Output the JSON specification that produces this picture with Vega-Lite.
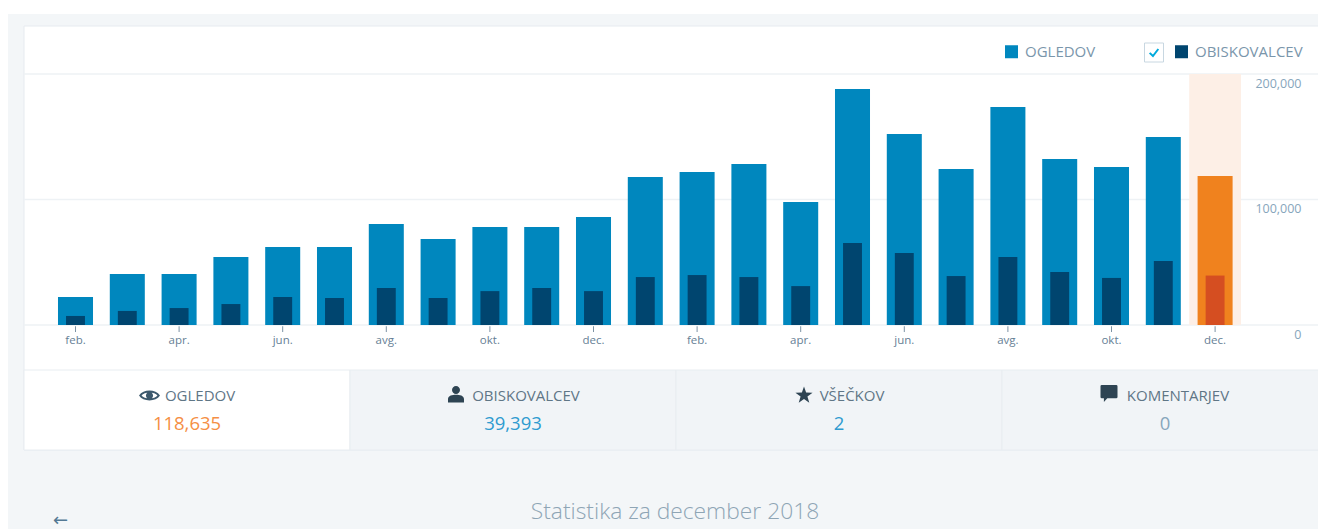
{
"$schema":"https://vega.github.io/schema/vega-lite/v6.json",
"width":1318,"height":529,"padding":0,"autosize":{"type":"none"},"background":"#ffffff",
"config":{"view":{"stroke":null},"font":"Open Sans"},
"datasets":{
"meseci":[
{"mesec":"feb. 2017","serija":"OGLEDOV","vrednost":22300},{"mesec":"mar. 2017","serija":"OGLEDOV","vrednost":40600},{"mesec":"apr. 2017","serija":"OGLEDOV","vrednost":40600},{"mesec":"maj 2017","serija":"OGLEDOV","vrednost":54200},{"mesec":"jun. 2017","serija":"OGLEDOV","vrednost":62200},{"mesec":"jul. 2017","serija":"OGLEDOV","vrednost":62200},{"mesec":"avg. 2017","serija":"OGLEDOV","vrednost":80500},{"mesec":"sep. 2017","serija":"OGLEDOV","vrednost":68500},{"mesec":"okt. 2017","serija":"OGLEDOV","vrednost":78100},{"mesec":"nov. 2017","serija":"OGLEDOV","vrednost":78100},{"mesec":"dec. 2017","serija":"OGLEDOV","vrednost":86000},{"mesec":"jan. 2018","serija":"OGLEDOV","vrednost":118000},{"mesec":"feb. 2018","serija":"OGLEDOV","vrednost":122000},{"mesec":"mar. 2018","serija":"OGLEDOV","vrednost":128300},{"mesec":"apr. 2018","serija":"OGLEDOV","vrednost":98000},{"mesec":"maj 2018","serija":"OGLEDOV","vrednost":188000},{"mesec":"jun. 2018","serija":"OGLEDOV","vrednost":152200},{"mesec":"jul. 2018","serija":"OGLEDOV","vrednost":124300},{"mesec":"avg. 2018","serija":"OGLEDOV","vrednost":173700},{"mesec":"sep. 2018","serija":"OGLEDOV","vrednost":132300},{"mesec":"okt. 2018","serija":"OGLEDOV","vrednost":125900},{"mesec":"nov. 2018","serija":"OGLEDOV","vrednost":149800},{"mesec":"dec. 2018","serija":"OGLEDOV","vrednost":118635},
{"mesec":"feb. 2017","serija":"OBISKOVALCEV","vrednost":7200},{"mesec":"mar. 2017","serija":"OBISKOVALCEV","vrednost":11200},{"mesec":"apr. 2017","serija":"OBISKOVALCEV","vrednost":13500},{"mesec":"maj 2017","serija":"OBISKOVALCEV","vrednost":16700},{"mesec":"jun. 2017","serija":"OBISKOVALCEV","vrednost":22300},{"mesec":"jul. 2017","serija":"OBISKOVALCEV","vrednost":21500},{"mesec":"avg. 2017","serija":"OBISKOVALCEV","vrednost":29500},{"mesec":"sep. 2017","serija":"OBISKOVALCEV","vrednost":21500},{"mesec":"okt. 2017","serija":"OBISKOVALCEV","vrednost":27000},{"mesec":"nov. 2017","serija":"OBISKOVALCEV","vrednost":29500},{"mesec":"dec. 2017","serija":"OBISKOVALCEV","vrednost":27000},{"mesec":"jan. 2018","serija":"OBISKOVALCEV","vrednost":38200},{"mesec":"feb. 2018","serija":"OBISKOVALCEV","vrednost":39800},{"mesec":"mar. 2018","serija":"OBISKOVALCEV","vrednost":38200},{"mesec":"apr. 2018","serija":"OBISKOVALCEV","vrednost":31000},{"mesec":"maj 2018","serija":"OBISKOVALCEV","vrednost":65300},{"mesec":"jun. 2018","serija":"OBISKOVALCEV","vrednost":57400},{"mesec":"jul. 2018","serija":"OBISKOVALCEV","vrednost":39000},{"mesec":"avg. 2018","serija":"OBISKOVALCEV","vrednost":54200},{"mesec":"sep. 2018","serija":"OBISKOVALCEV","vrednost":42200},{"mesec":"okt. 2018","serija":"OBISKOVALCEV","vrednost":37500},{"mesec":"nov. 2018","serija":"OBISKOVALCEV","vrednost":51000},{"mesec":"dec. 2018","serija":"OBISKOVALCEV","vrednost":39393}
],
"plosce":[{"plosca":"OGLEDOV","stevilo":"118,635"},{"plosca":"OBISKOVALCEV","stevilo":"39,393"},{"plosca":"VŠEČKOV","stevilo":"2"},{"plosca":"KOMENTARJEV","stevilo":"0"}],
"mreza":[{"raven":0},{"raven":100000},{"raven":200000}]
},
"resolve":{"scale":{"x":"independent","y":"independent","fill":"independent"}},
"layer":[
{"data":{"values":[{"ploskev":"stran"}]},"mark":{"type":"rect","fill":"#f3f6f8"},
 "encoding":{"x":{"field":"ploskev","type":"nominal","axis":null,"scale":{"type":"band","domain":["stran"],"range":[8,1330],"paddingInner":0,"paddingOuter":0}},
 "y":{"field":"ploskev","type":"nominal","axis":null,"scale":{"type":"band","domain":["stran"],"range":[14,540],"paddingInner":0,"paddingOuter":0}}}},
{"data":{"values":[{"ploskev":"okvir"}]},"mark":{"type":"rect","fill":"#ffffff","stroke":"#e6ebf0","strokeWidth":1},
 "encoding":{"x":{"field":"ploskev","type":"nominal","axis":null,"scale":{"type":"band","domain":["okvir"],"range":[24,1330],"paddingInner":0,"paddingOuter":0}},
 "y":{"field":"ploskev","type":"nominal","axis":null,"scale":{"type":"band","domain":["okvir"],"range":[26,450],"paddingInner":0,"paddingOuter":0}}}},
{"data":{"name":"mreza"},"mark":{"type":"rule","color":"#eef2f5","strokeWidth":1.6},
 "encoding":{"x":{"datum":0,"type":"quantitative","axis":null,"scale":{"domain":[0,1],"range":[24,1318]}},"x2":{"datum":1},
 "y":{"field":"raven","type":"quantitative","scale":{"domain":[0,200000],"range":[325,74],"nice":false,"zero":true},
 "axis":{"orient":"right","offset":-17,"title":null,"values":[0,100000,200000],"format":",d","domain":false,"ticks":false,"grid":false,"labelAlign":"right","labelPadding":0,"labelOffset":9,"labelFont":"Open Sans","labelFontSize":12.5,"labelColor":"#87a6bc","zindex":1}}}},
{"data":{"name":"meseci"},
 "encoding":{"x":{"field":"mesec","type":"nominal","sort":null,"scale":{"type":"band","domain":["feb. 2017","mar. 2017","apr. 2017","maj 2017","jun. 2017","jul. 2017","avg. 2017","sep. 2017","okt. 2017","nov. 2017","dec. 2017","jan. 2018","feb. 2018","mar. 2018","apr. 2018","maj 2018","jun. 2018","jul. 2018","avg. 2018","sep. 2018","okt. 2018","nov. 2018","dec. 2018"],"range":[49.6,1241],"paddingInner":0,"paddingOuter":0},
  "axis":{"orient":"bottom","offset":-204,"title":null,"labelAngle":0,"values":["feb. 2017","apr. 2017","jun. 2017","avg. 2017","okt. 2017","dec. 2017","feb. 2018","apr. 2018","jun. 2018","avg. 2018","okt. 2018","dec. 2018"],"labelExpr":"split(datum.label,' ')[0]","domain":false,"ticks":false,"labelPadding":9,"labelFont":"Open Sans","labelFontSize":11.5,"labelColor":"#668095","zindex":1}},
 "y":{"field":"vrednost","type":"quantitative","stack":null,"axis":null,"scale":{"domain":[0,200000],"range":[325,74],"nice":false,"zero":true}}},
 "layer":[
  {"transform":[{"filter":"datum.serija==='OGLEDOV' && datum.mesec==='dec. 2018'"}],"mark":{"type":"bar","color":"#fdefe6","width":{"band":1}},
   "encoding":{"y":{"datum":200000,"type":"quantitative","stack":null,"axis":null},"y2":{"datum":0}}},
  {"transform":[{"filter":"datum.serija==='OGLEDOV'"}],"mark":{"type":"bar","width":{"band":0.676}},
   "encoding":{"color":{"condition":{"test":"datum.mesec==='dec. 2018'","value":"#f0821e"},"field":"serija","type":"nominal",
    "scale":{"domain":["OGLEDOV","OBISKOVALCEV"],"range":["#0087be","#00456f"]},
    "legend":{"orient":"none","legendX":1004,"legendY":44,"direction":"horizontal","columns":2,"columnPadding":78,"title":null,"symbolType":"square","symbolSize":169,"symbolStrokeWidth":0,"labelFont":"Open Sans","labelFontSize":15,"labelColor":"#7a96ab","labelOffset":6}}}},
  {"transform":[{"filter":"datum.serija==='OBISKOVALCEV'"}],"mark":{"type":"bar","width":{"band":0.365}},
   "encoding":{"color":{"condition":{"test":"datum.mesec==='dec. 2018'","value":"#d54e21"},"field":"serija","type":"nominal","scale":{"domain":["OGLEDOV","OBISKOVALCEV"],"range":["#0087be","#00456f"]}}}},
  {"transform":[{"filter":"datum.serija==='OGLEDOV' && indexof(['feb. 2017','apr. 2017','jun. 2017','avg. 2017','okt. 2017','dec. 2017','feb. 2018','apr. 2018','jun. 2018','avg. 2018','okt. 2018','dec. 2018'],datum.mesec)>=0"}],"mark":{"type":"rule","color":"#7d93a5","strokeWidth":1},
   "encoding":{"y":{"datum":-1000,"type":"quantitative","stack":null,"axis":null},"y2":{"datum":-5600}}}
 ]},
{"data":{"values":[{"polje":"izbira"}]},
 "encoding":{"x":{"field":"polje","type":"nominal","axis":null,"scale":{"type":"band","domain":["izbira"],"range":[1144,1164],"paddingInner":0,"paddingOuter":0}},
  "y":{"field":"polje","type":"nominal","axis":null,"scale":{"type":"band","domain":["izbira"],"range":[43,62],"paddingInner":0,"paddingOuter":0}}},
 "layer":[
  {"mark":{"type":"point","shape":"square","size":361,"filled":true,"fill":"#ffffff","stroke":"#c8d7e1","strokeWidth":1,"opacity":1}},
  {"mark":{"type":"point","shape":"M-0.62,0.05 L-0.15,0.5 L0.62,-0.5","size":196,"filled":false,"stroke":"#00aadc","strokeWidth":2,"opacity":1}}
 ]},
{"data":{"name":"plosce"},"mark":{"type":"rect","stroke":"#e8edf1","strokeWidth":1},
 "encoding":{"x":{"field":"plosca","type":"nominal","axis":null,"sort":null,"scale":{"type":"band","domain":["OGLEDOV","OBISKOVALCEV","VŠEČKOV","KOMENTARJEV"],"range":[24,1328],"paddingInner":0,"paddingOuter":0}},
 "y":{"datum":"pas","type":"nominal","axis":null,"scale":{"type":"band","domain":["pas"],"range":[370,450],"paddingInner":0,"paddingOuter":0}},
 "fill":{"field":"plosca","type":"nominal","legend":null,"scale":{"domain":["OGLEDOV","OBISKOVALCEV","VŠEČKOV","KOMENTARJEV"],"range":["#ffffff","#f1f4f7","#f1f4f7","#f1f4f7"]}}}},
{"data":{"name":"plosce"},
 "encoding":{"x":{"field":"plosca","type":"nominal","axis":null,"sort":null,"scale":{"type":"band","domain":["OGLEDOV","OBISKOVALCEV","VŠEČKOV","KOMENTARJEV"],"range":[24,1328],"paddingInner":0,"paddingOuter":0}},
  "y":{"datum":"oznaka","type":"nominal","axis":null,"scale":{"type":"band","domain":["oznaka","stevilo"],"range":[381.5,437.5],"paddingInner":0,"paddingOuter":0}}},
 "layer":[
  {"mark":{"type":"text","dx":13,"font":"Open Sans","fontSize":15,"color":"#5f7686"},"encoding":{"text":{"field":"plosca"}}},
  {"mark":{"type":"text","font":"Open Sans","fontSize":18.5},
   "encoding":{"y":{"datum":"stevilo","type":"nominal","axis":null},"text":{"field":"stevilo"},
    "fill":{"field":"plosca","type":"nominal","legend":null,"scale":{"domain":["OGLEDOV","OBISKOVALCEV","VŠEČKOV","KOMENTARJEV"],"range":["#f58f45","#2e9bd0","#2e9bd0","#87a6bc"]}}}},
  {"transform":[{"filter":"datum.plosca==='OGLEDOV'"}],"mark":{"type":"point","filled":true,"color":"#3d596d","opacity":1,"size":441,"xOffset":-37.5,"shape":"M-1,0 C-0.6,-0.62 0.6,-0.62 1,0 C0.6,0.62 -0.6,0.62 -1,0 Z M-0.76,0 C-0.5,0.38 0.5,0.38 0.76,0 C0.5,-0.38 -0.5,-0.38 -0.76,0 Z M-0.34,0 A0.34,0.34 0 1 1 0.34,0 A0.34,0.34 0 1 1 -0.34,0 Z"}},
  {"transform":[{"filter":"datum.plosca==='OBISKOVALCEV'"}],"mark":{"type":"point","filled":true,"color":"#2e4453","opacity":1,"size":256,"xOffset":-57,"yOffset":-1,"shape":"M-0.5,-0.55 A0.5,0.5 0 1 1 0.5,-0.55 A0.5,0.5 0 1 1 -0.5,-0.55 Z M-1,1 L-1,0.6 C-1,0.1 -0.45,0.02 0,0.02 C0.45,0.02 1,0.1 1,0.6 L1,1 Z"}},
  {"transform":[{"filter":"datum.plosca==='VŠEČKOV'"}],"mark":{"type":"point","filled":true,"color":"#2e4453","opacity":1,"size":324,"xOffset":-35,"yOffset":0,"shape":"M0,-1 L0.235,-0.324 L0.951,-0.309 L0.38,0.124 L0.588,0.809 L0,0.4 L-0.588,0.809 L-0.38,0.124 L-0.951,-0.309 L-0.235,-0.324 Z"}},
  {"transform":[{"filter":"datum.plosca==='KOMENTARJEV'"}],"mark":{"type":"point","filled":true,"color":"#2e4453","opacity":1,"size":289,"xOffset":-56,"yOffset":-2,"shape":"M-1,-0.85 Q-1,-1 -0.85,-1 L0.85,-1 Q1,-1 1,-0.85 L1,0.4 Q1,0.55 0.85,0.55 L-0.2,0.55 L-0.6,1 L-0.6,0.55 L-0.85,0.55 Q-1,0.55 -1,0.4 Z"}}
 ]},
{"data":{"values":[{"napis":"Statistika za december 2018"}]},"mark":{"type":"text","font":"Open Sans","fontWeight":300,"fontSize":22.8,"color":"#8ea5b5"},
 "encoding":{"text":{"field":"napis"},
  "x":{"field":"napis","type":"nominal","axis":null,"scale":{"type":"band","range":[500,850],"paddingInner":0,"paddingOuter":0}},
  "y":{"field":"napis","type":"nominal","axis":null,"scale":{"type":"band","range":[496,528],"paddingInner":0,"paddingOuter":0}}}},
{"data":{"values":[{"nazaj":"←"}]},"mark":{"type":"text","font":"DejaVu Sans","fontSize":18,"color":"#537994"},
 "encoding":{"text":{"field":"nazaj"},
  "x":{"field":"nazaj","type":"nominal","axis":null,"scale":{"type":"band","range":[50,71],"paddingInner":0,"paddingOuter":0}},
  "y":{"field":"nazaj","type":"nominal","axis":null,"scale":{"type":"band","range":[511,531],"paddingInner":0,"paddingOuter":0}}}}
]
}
